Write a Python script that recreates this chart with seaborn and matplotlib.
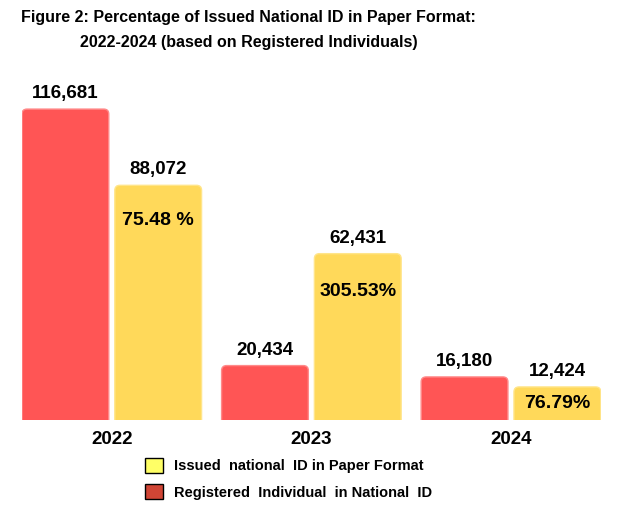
import matplotlib
matplotlib.use("Agg")
import matplotlib.pyplot as plt
from matplotlib.patches import FancyBboxPatch, Patch
import pandas as pd
import seaborn as sns

years = ["2022", "2023", "2024"]
registered = [116681, 20434, 16180]
issued = [88072, 62431, 12424]
pct_labels = ["75.48 %", "305.53%", "76.79%"]
series_names = ["Registered  Individual  in National  ID", "Issued  national  ID in Paper Format"]

df = pd.DataFrame({
    "year": years * 2,
    "series": [series_names[0]] * 3 + [series_names[1]] * 3,
    "value": registered + issued,
})

sns.set_style("white")
plt.rcParams["font.family"] = ["Liberation Sans", "DejaVu Sans"]
plt.rcParams["text.color"] = "black"
plt.rcParams["xtick.color"] = "black"

bar_colors = {series_names[0]: "#FF5555", series_names[1]: "#FFD95A"}
edge_colors = {series_names[0]: "#FF8A8A", series_names[1]: "#FFE58A"}

fig = plt.figure(figsize=(6.21, 5.11), dpi=100)
ax = fig.add_axes([0.0354, 0.178, 0.932, 0.678])

sns.barplot(data=df, x="year", y="value", hue="series", hue_order=series_names,
            palette=bar_colors, width=0.93, gap=0.065, ax=ax, legend=False)

ax.set_xlim(-0.45, 2.45)
ax.set_ylim(0, 130000)

# swap plain bars for rounded ones
x_per_px = 2.9 / (0.932 * 621)
y_per_px = 130000 / (0.678 * 511)
radius = 5 * x_per_px
aspect = y_per_px / x_per_px
bars = list(ax.patches)
for i, p in enumerate(bars):
    name = series_names[i // 3]
    x0, w, h = p.get_x(), p.get_width(), p.get_height()
    p.remove()
    fb = FancyBboxPatch((x0, -8 * y_per_px), w, h + 8 * y_per_px,
                        boxstyle=f"round,pad=0,rounding_size={radius}",
                        mutation_aspect=aspect, facecolor=bar_colors[name],
                        edgecolor=edge_colors[name], linewidth=1.0, clip_on=True)
    ax.add_patch(fb)
    ax.annotate(f"{int(h):,}", (x0 + w / 2, h), xytext=(0, 5), textcoords="offset points",
                ha="center", va="bottom", fontsize=13.5, fontweight="bold")
    if i >= 3:
        off = [-25, -27, -12][i - 3]
        ax.annotate(pct_labels[i - 3], (x0 + w / 2, h), xytext=(0, off), textcoords="offset points",
                    ha="center", va="center", fontsize=14, fontweight="bold")

sns.despine(ax=ax, left=True, bottom=True)
ax.set_yticks([])
ax.tick_params(axis="x", length=0, pad=8)
for t in ax.get_xticklabels():
    t.set_fontsize(13.5)
    t.set_fontweight("bold")
ax.set_xlabel("")
ax.set_ylabel("")

fig.text(0.40, 0.98, "Figure 2: Percentage of Issued National ID in Paper Format:\n2022-2024 (based on Registered Individuals)",
         ha="center", va="top", fontsize=11.5, fontweight="bold", linespacing=1.85)

handles = [Patch(facecolor="#FFFF66", edgecolor="black", linewidth=1),
           Patch(facecolor="#D04535", edgecolor="black", linewidth=1)]
fig.legend(handles, [series_names[1], series_names[0]], loc="upper left",
           bbox_to_anchor=(0.222, 0.118), frameon=False,
           prop={"weight": "bold", "size": 10.5}, handlelength=1.2, handleheight=1.2,
           handletextpad=0.75, labelspacing=0.75, borderpad=0)

fig.savefig("out.png", dpi=100)
